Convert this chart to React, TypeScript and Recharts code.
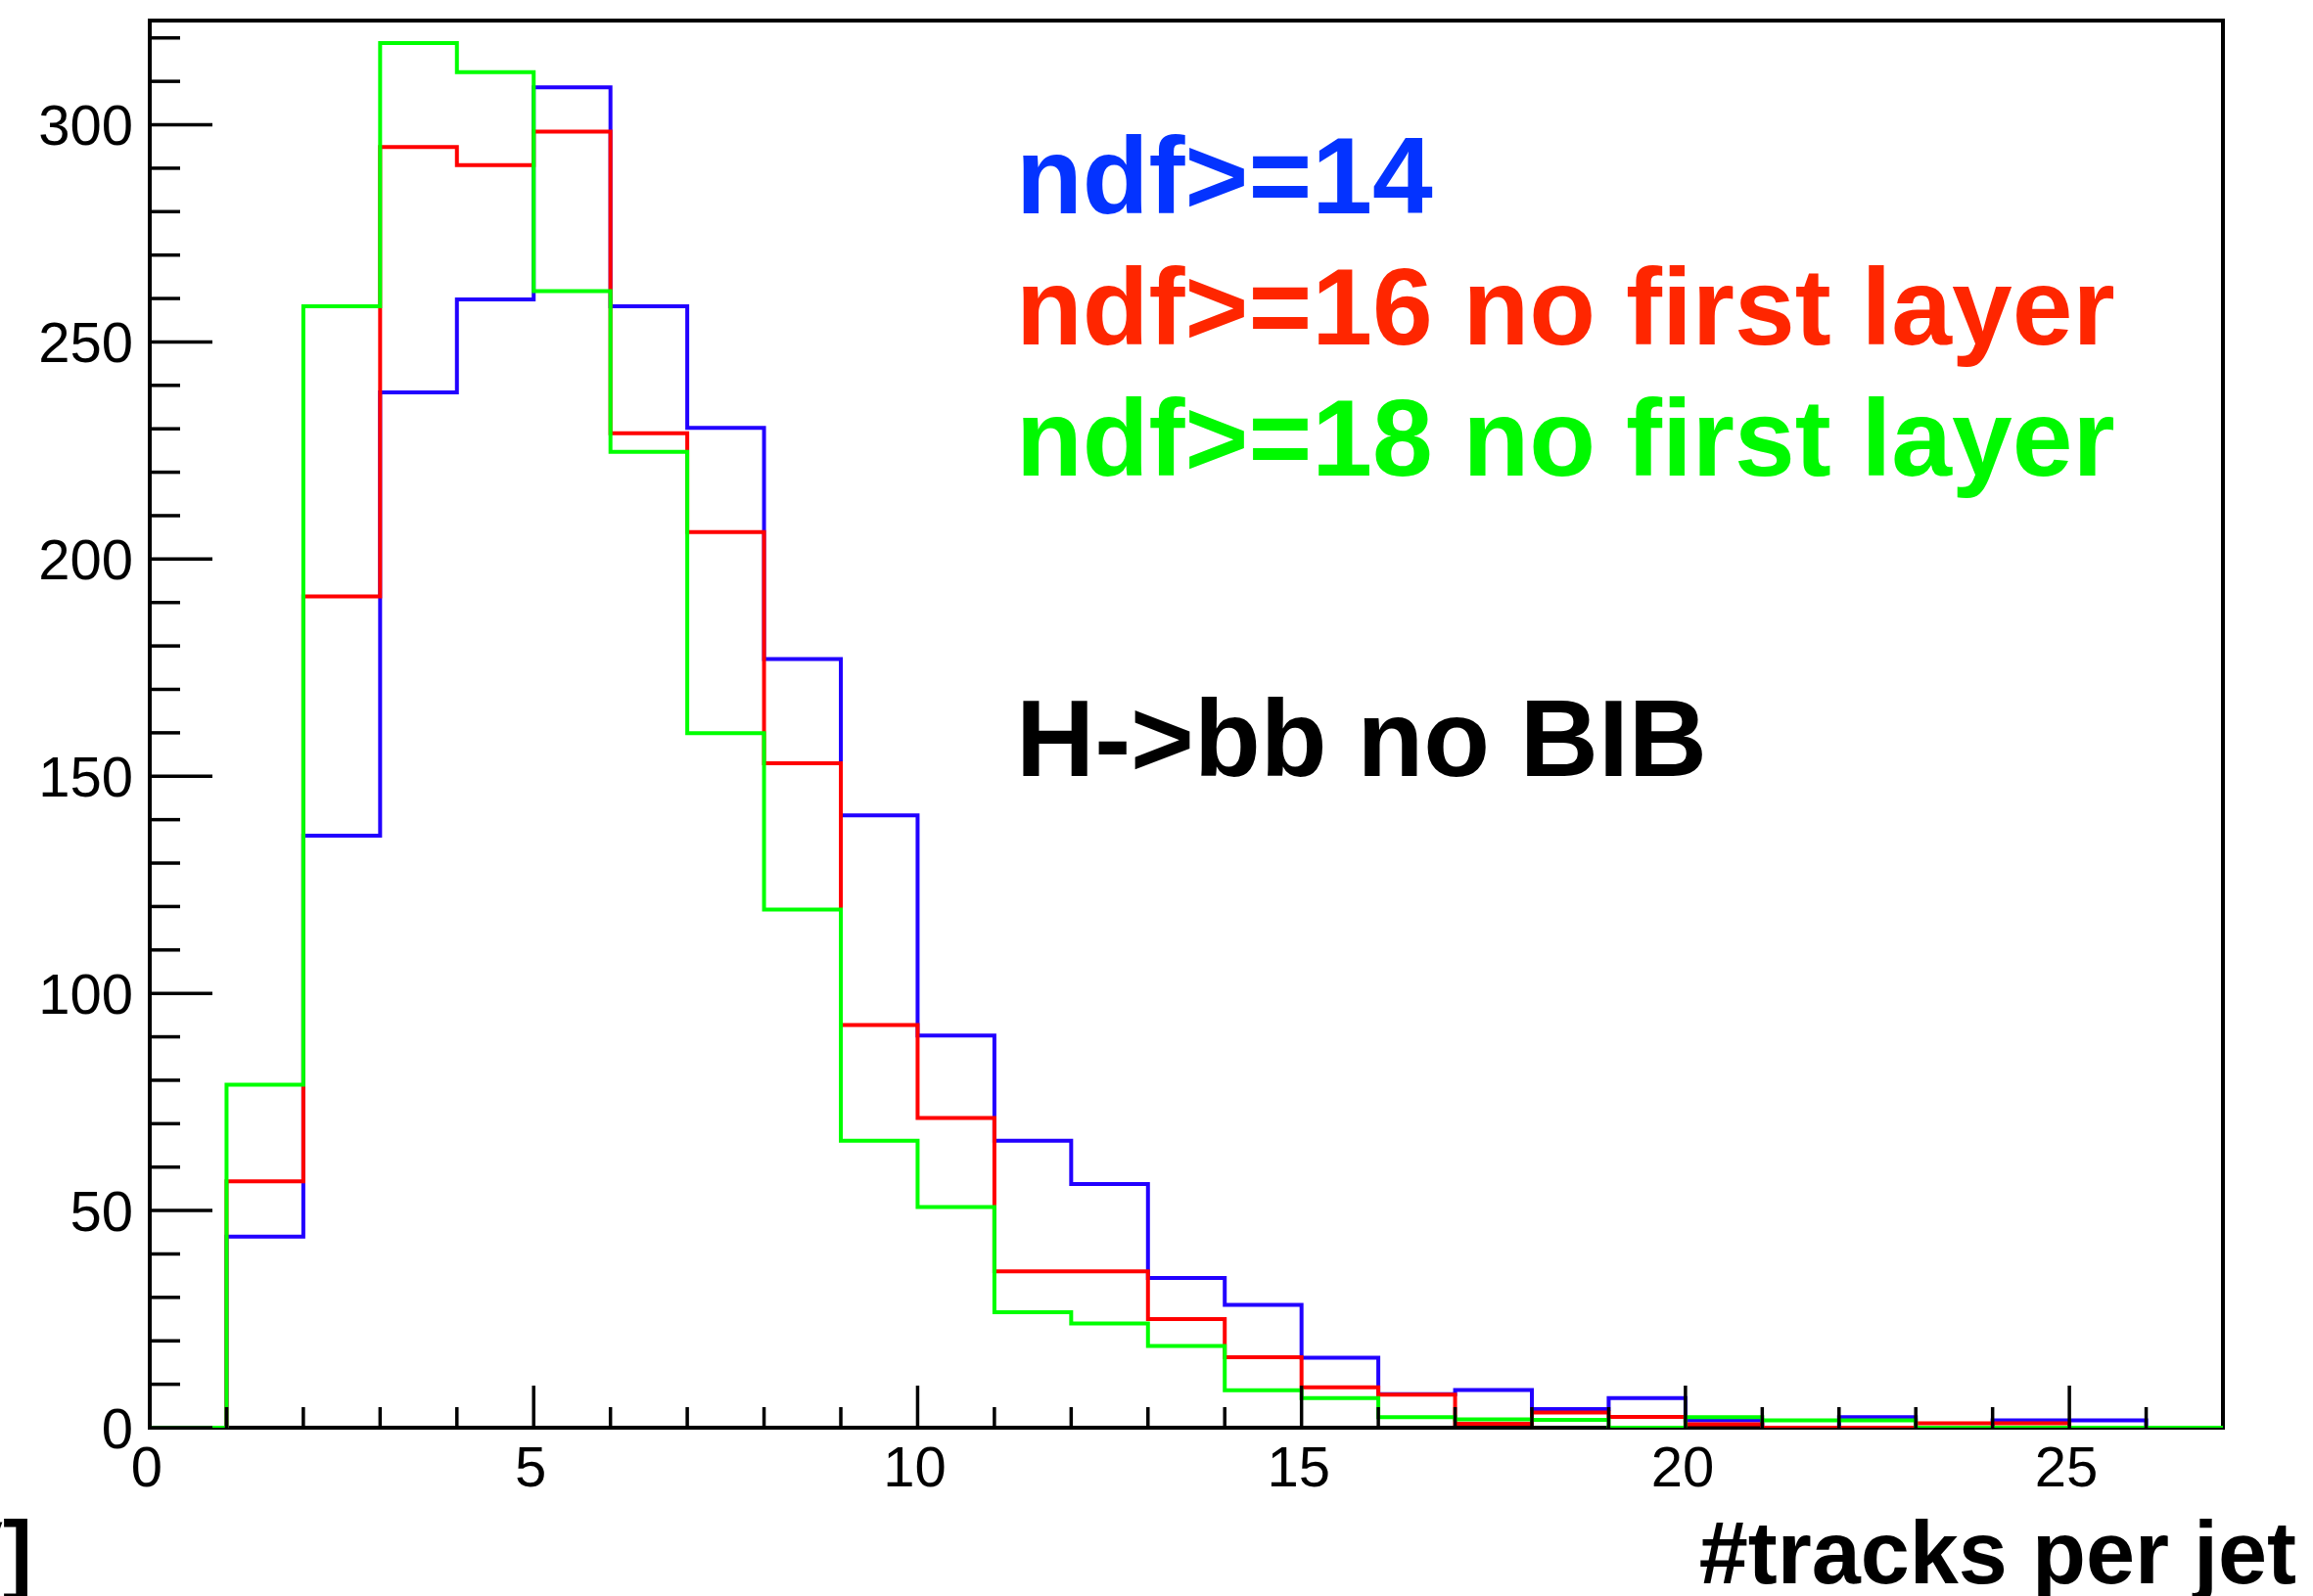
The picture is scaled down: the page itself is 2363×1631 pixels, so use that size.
import { LineChart, Line, XAxis, YAxis, ReferenceArea } from "recharts";

// per-bin counts, bins [i, i+1) for i = 0..26
const ndf14 = [0, 44, 136.3, 238.4, 259.8, 308.6, 258.2, 230.2, 177, 141, 90.3, 66.1, 56.1, 34.5, 28.3, 16.1, 7.7, 8.7, 4.3, 6.8, 1.7, 0, 2.4, 0, 1.7, 1.7, 0];
const ndf16 = [0, 56.7, 191.4, 294.9, 290.7, 298.4, 229, 206.2, 153, 92.7, 71.3, 36, 36, 25, 16.2, 9.3, 7.6, 0.9, 3.5, 2.5, 0.8, 0, 0, 1, 1, 0, 0];
const ndf18 = [0, 79, 258.2, 318.8, 312.1, 261.7, 224.7, 159.9, 119.3, 66.1, 50.8, 26.6, 24, 18.8, 8.6, 6.8, 2.4, 1.9, 1.8, 0, 2.4, 1.7, 1.7, 0, 0, 0, 0];

const binLow = [0, 1, 2, 3, 4, 5, 6, 7, 8, 9, 10, 11, 12, 13, 14, 15, 16, 17, 18, 19, 20, 21, 22, 23, 24, 25, 26];
const xMax = 27;
const yMax = 324;

const xTicks = [0, 1, 2, 3, 4, 5, 6, 7, 8, 9, 10, 11, 12, 13, 14, 15, 16, 17, 18, 19, 20, 21, 22, 23, 24, 25, 26];
const xLabels = [0, 5, 10, 15, 20, 25];
const yTicks = [0, 10, 20, 30, 40, 50, 60, 70, 80, 90, 100, 110, 120, 130, 140, 150, 160, 170, 180, 190, 200, 210, 220, 230, 240, 250, 260, 270, 280, 290, 300, 310, 320];
const yLabels = [0, 50, 100, 150, 200, 250, 300];

const FONT = "'Liberation Sans', Arial, Helvetica, sans-serif";

// step histogram: one point per bin low edge, plus the closing upper edge
const rows = binLow.map((x, i) => ({ x, blue: ndf14[i], red: ndf16[i], green: ndf18[i] }));
rows.push({ x: xMax, blue: ndf14[ndf14.length - 1], red: ndf16[ndf16.length - 1], green: ndf18[ndf18.length - 1] });

// ROOT-style ticks pointing into the frame
const XTick = (props: any) => {
  const { x, y, payload } = props;
  const major = xLabels.includes(payload.value);
  return (
    <g>
      <line x1={x} x2={x} y1={y} y2={y - (major ? 43 : 21)} stroke="#000" strokeWidth={3.5} />
      {major && (
        <text x={x - 3} y={y + 60} textAnchor="middle" fontSize={58} fontFamily={FONT} fill="#000">
          {payload.value}
        </text>
      )}
    </g>
  );
};

const YTick = (props: any) => {
  const { x, y, payload } = props;
  const major = yLabels.includes(payload.value);
  return (
    <g>
      <line x1={x} x2={x + (major ? 64 : 31)} y1={y} y2={y} stroke="#000" strokeWidth={3.5} />
      {major && (
        <text x={x - 17} y={y} dy="0.36em" textAnchor="end" fontSize={58} fontFamily={FONT} fill="#000">
          {payload.value}
        </text>
      )}
    </g>
  );
};

export default function App() {
  return (
    <div style={{ position: "absolute", left: 0, top: 0, width: 2363, height: 1631, background: "#fff" }}>
      <LineChart width={2363} height={1631} data={rows} margin={{ top: 21, right: 92, bottom: 0, left: 0 }}>
        <XAxis
          dataKey="x"
          type="number"
          domain={[0, xMax]}
          ticks={xTicks}
          interval={0}
          height={172}
          axisLine={false}
          tickLine={false}
          tickSize={0}
          tickMargin={0}
          tick={<XTick />}
          allowDataOverflow
        />
        <YAxis
          type="number"
          domain={[0, yMax]}
          ticks={yTicks}
          interval={0}
          width={153}
          axisLine={false}
          tickLine={false}
          tickSize={0}
          tickMargin={0}
          tick={<YTick />}
          allowDataOverflow
        />
        <ReferenceArea x1={0} x2={xMax} y1={0} y2={yMax} fill="none" stroke="#000" strokeWidth={4} ifOverflow="visible" />
        <Line type="stepAfter" dataKey="blue" stroke="#2200ff" strokeWidth={4} dot={false} isAnimationActive={false} />
        <Line type="stepAfter" dataKey="red" stroke="#ff0000" strokeWidth={4} dot={false} isAnimationActive={false} />
        <Line type="stepAfter" dataKey="green" stroke="#00ff00" strokeWidth={4} dot={false} isAnimationActive={false} />
      </LineChart>
      <svg width={2363} height={1631} style={{ position: "absolute", left: 0, top: 0, pointerEvents: "none" }}>
        <g fontFamily={FONT} fontWeight="bold" fontSize={111}>
          <text x={1038} y={218} fill="#0433ff">ndf&gt;=14</text>
          <text x={1038} y={352} fill="#ff2600">ndf&gt;=16 no first layer</text>
          <text x={1038} y={486} fill="#00f900">ndf&gt;=18 no first layer</text>
          <text x={1038} y={793} fill="#000">H-&gt;bb no BIB</text>
        </g>
        <g fontFamily={FONT} fontWeight="bold" fontSize={90} fill="#000">
          <text x={2346} y={1618} textAnchor="end">#tracks per jet</text>
          <text x={33} y={1618} textAnchor="end">V]</text>
        </g>
      </svg>
    </div>
  );
}
